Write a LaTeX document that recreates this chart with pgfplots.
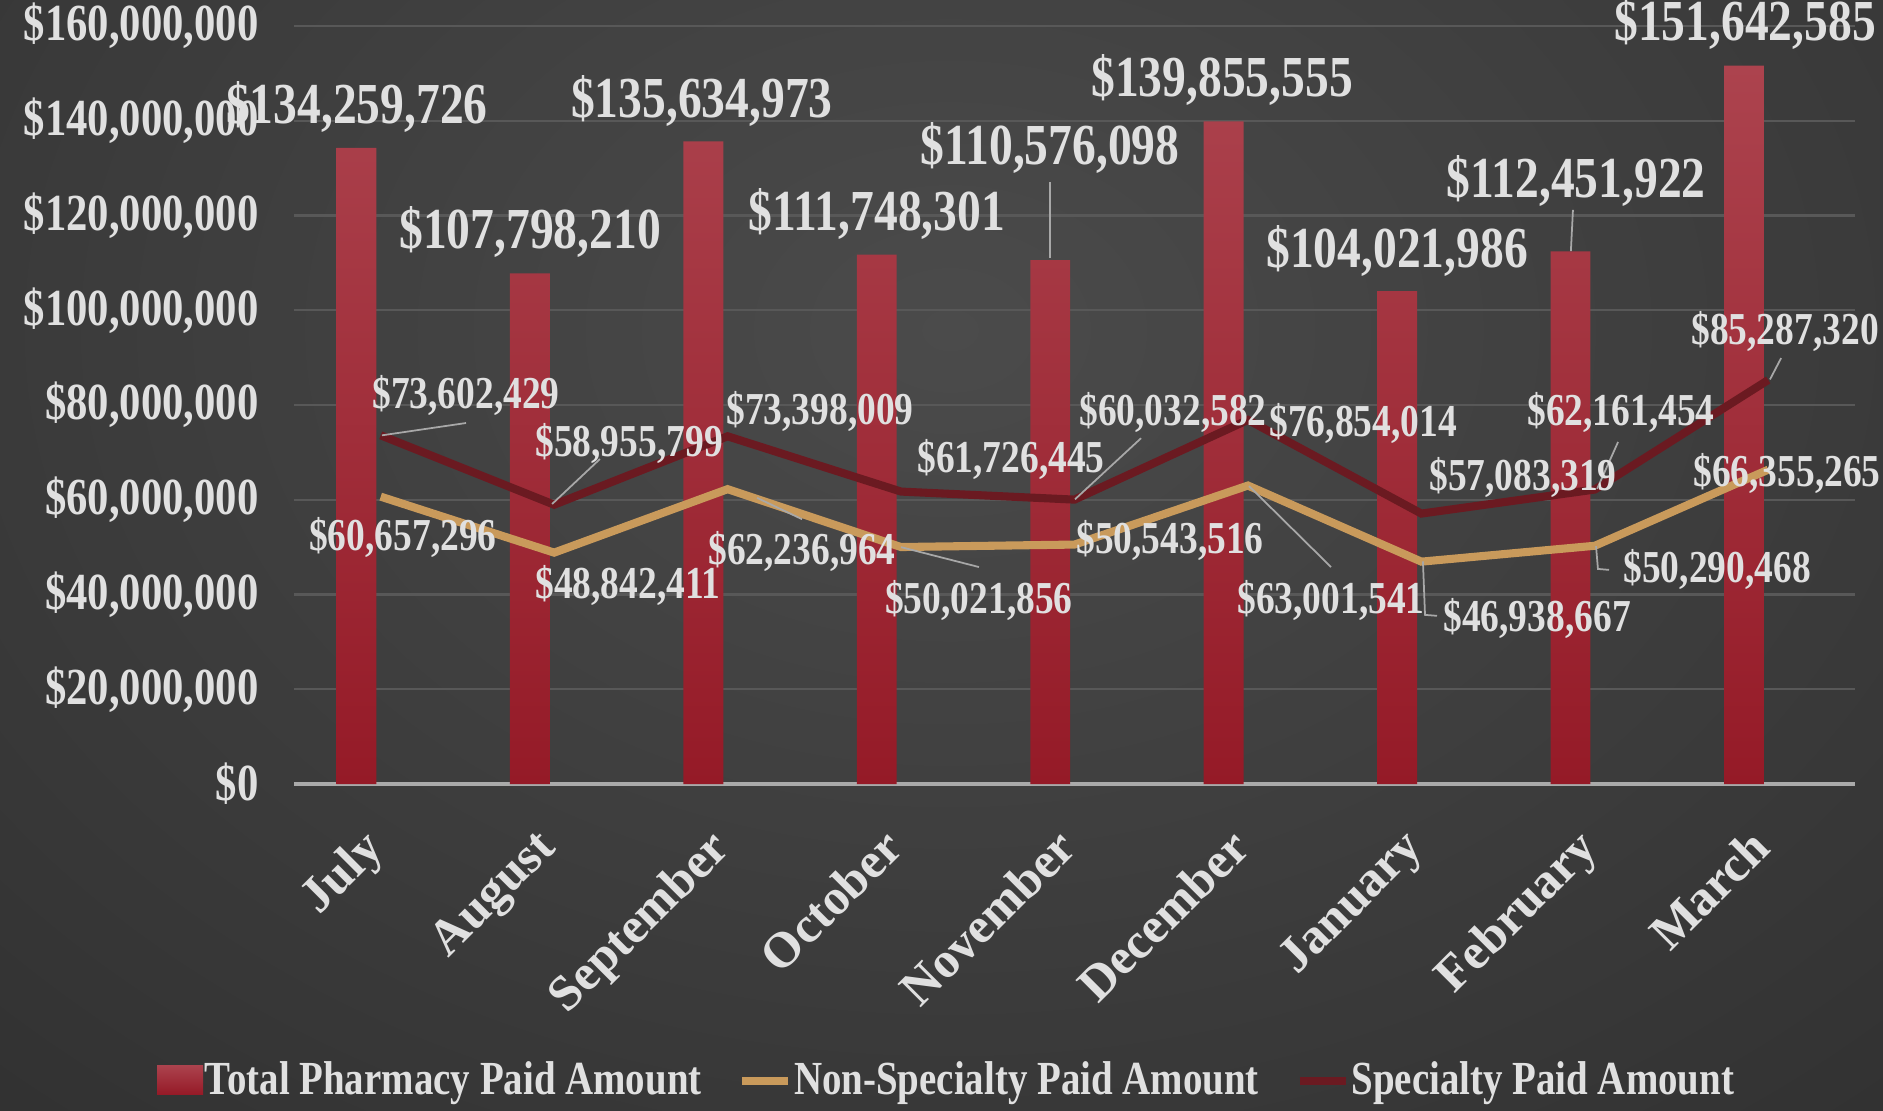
\documentclass[border=0pt]{standalone}
\usepackage{fontspec}
\setmainfont{Liberation Serif}[FakeStretch=0.82]
\newfontfamily\xfont{Liberation Serif}
\usepackage{pgfplots}
\pgfplotsset{compat=1.18}
\usepackage{pgfplotstable}
\definecolor{bgin}{HTML}{4B4B4B}
\definecolor{bgout}{HTML}{222222}
\definecolor{txt}{HTML}{E0E0E0}
\definecolor{bartop}{HTML}{AC434E}
\definecolor{barbot}{HTML}{951A27}
\definecolor{nonspec}{HTML}{C99A5B}
\definecolor{spec}{HTML}{6B1A21}
\definecolor{gridc}{HTML}{585858}
\definecolor{leader}{HTML}{A8A8A8}

\pgfplotstableread{
x tot nonspec spec
0 134259726 60657296 73602429
1 107798210 48842411 58955799
2 135634973 62236964 73398009
3 111748301 50021856 61726445
4 110576098 50543516 60032582
5 139855555 63001541 76854014
6 104021986 46938667 57083319
7 112451922 50290468 62161454
8 151642585 66355265 85287320
}\pharm

\begin{document}
\begin{tikzpicture}
\useasboundingbox (0,0) rectangle (188.3mm,111mm);
\fill[bgout] (0,0) rectangle (188.3mm,111mm);
\begin{scope}
\clip (0,0) rectangle (188.3mm,111mm);
\shade[inner color=bgin, outer color=bgout] (95mm,78mm) ellipse [x radius=230mm, y radius=170mm];
\end{scope}
\begin{axis}[
  at={(29.4mm,32.6mm)}, anchor=south west,
  scale only axis, width=156.1mm, height=75.8mm,
  xmin=-0.5, xmax=8.5, ymin=0, ymax=160000000,
  axis x line*=bottom, axis y line*=left,
  x axis line style={draw={rgb,255:red,170;green,170;blue,170}, line width=1.3pt},
  y axis line style={draw=none},
  major tick length=0pt,
  scaled y ticks=false,
  ymajorgrids, grid style={gridc, line width=0.7pt},
  xtick={0,...,8},
  xticklabels={July,August,September,October,November,December,January,February,March},
  xticklabel style={font=\xfont\bfseries\fontsize{14.3}{15}\selectfont, text=txt,
    rotate=45, anchor=north east, inner sep=1pt, xshift=-4.0mm, yshift=-1.1mm},
  ytick={0,20000000,40000000,60000000,80000000,100000000,120000000,140000000,160000000},
  yticklabels={\$0,{\$20,000,000},{\$40,000,000},{\$60,000,000},{\$80,000,000},
    {\$100,000,000},{\$120,000,000},{\$140,000,000},{\$160,000,000}},
  yticklabel style={font=\bfseries\fontsize{14.8}{15}\selectfont, text=txt, anchor=east, xshift=-2.3mm},
  legend columns=3,
  legend style={at={(0.418,-0.392)}, anchor=center, draw=none, fill=none,
    font=\bfseries\fontsize{13.5}{14}\selectfont, text=txt,
    /tikz/every even column/.append style={column sep=3.5mm},
    nodes={inner sep=0.5pt}},
  clip=false,
]
\addplot[ybar, bar width=0.23, bar shift=-0.14, draw=none,
  top color=bartop, bottom color=barbot,
  legend image code/.code={\path[top color=bartop, bottom color=barbot] (0mm,-1.3mm) rectangle (4.6mm,1.6mm);}]
  table[x=x, y=tot] {\pharm};
\addlegendentry{Total Pharmacy Paid Amount}
\addplot[nonspec, line width=2.3pt,
  legend image code/.code={\draw[nonspec, line width=2.3pt] (0mm,0mm) -- (4.6mm,0mm);}]
  table[x=x, y=nonspec] {\pharm};
\addlegendentry{Non-Specialty Paid Amount}
\addplot[spec, line width=2.3pt,
  legend image code/.code={\draw[spec, line width=2.3pt] (0mm,0mm) -- (4.6mm,0mm);}]
  table[x=x, y=spec] {\pharm};
\addlegendentry{Specialty Paid Amount}

% leader lines
\begin{scope}[leader, line width=0.5pt]
\draw (axis cs:3.859,127000000) -- (axis cs:3.859,111000000);
\draw (axis cs:6.874,121200000) -- (axis cs:6.862,112500000);
\draw (axis cs:0.492,76200000) -- (axis cs:0.007,73600000);
\draw (axis cs:1.264,68600000) -- (axis cs:0.988,59100000);
\draw (axis cs:4.384,73000000) -- (axis cs:4.003,60100000);
\draw (axis cs:7.134,72200000) -- (axis cs:7.013,62300000);
\draw (axis cs:8.074,89900000) -- (axis cs:8.010,85400000);
\draw (axis cs:2.429,55900000) -- (axis cs:2.170,60400000);
\draw (axis cs:3.449,45800000) -- (axis cs:3.000,50000000);
\draw (axis cs:5.479,45800000) -- (axis cs:5.006,62900000);
\draw (axis cs:6.009,47000000) -- (axis cs:6.021,35700000) -- (axis cs:6.090,35500000);
\draw (axis cs:7.007,50200000) -- (axis cs:7.018,45400000) -- (axis cs:7.082,45200000);
\end{scope}

% total labels
\begin{scope}[every node/.style={text=txt, font=\bfseries\fontsize{16.5}{17}\selectfont, inner sep=0pt}]
\node at (axis cs:-0.137,142900000) {\$134,259,726};
\node at (axis cs:0.861,116500000) {\$107,798,210};
\node at (axis cs:1.852,144200000) {\$135,634,973};
\node at (axis cs:2.861,120300000) {\$111,748,301};
\node at (axis cs:3.859,134200000) {\$110,576,098};
\node at (axis cs:4.851,148600000) {\$139,855,555};
\node at (axis cs:5.860,112500000) {\$104,021,986};
\node at (axis cs:6.892,127300000) {\$112,451,922};
\node at (axis cs:7.866,160400000) {\$151,642,585};
\end{scope}

% series labels
\begin{scope}[every node/.style={text=txt, font=\bfseries\fontsize{13}{13}\selectfont, inner sep=0pt}]
\node at (axis cs:0.492,82100000) {\$73,602,429};
\node at (axis cs:1.432,71800000) {\$58,955,799};
\node at (axis cs:2.533,78700000) {\$73,398,009};
\node at (axis cs:3.634,68400000) {\$61,726,445};
\node at (axis cs:4.568,78500000) {\$60,032,582};
\node at (axis cs:5.664,76200000) {\$76,854,014};
\node at (axis cs:6.586,64800000) {\$57,083,319};
\node at (axis cs:7.151,78500000) {\$62,161,454};
\node at (axis cs:8.097,95600000) {\$85,287,320};
\node at (axis cs:0.128,52100000) {\$60,657,296};
\node at (axis cs:1.426,41800000) {\$48,842,411};
\node at (axis cs:2.429,49000000) {\$62,236,964};
\node at (axis cs:3.449,38800000) {\$50,021,856};
\node at (axis cs:4.551,51500000) {\$50,543,516};
\node at (axis cs:5.479,38800000) {\$63,001,541};
\node at (axis cs:6.667,35000000) {\$46,938,667};
\node at (axis cs:7.705,45200000) {\$50,290,468};
\node at (axis cs:8.108,65600000) {\$66,355,265};
\end{scope}
\end{axis}
\end{tikzpicture}
\end{document}
